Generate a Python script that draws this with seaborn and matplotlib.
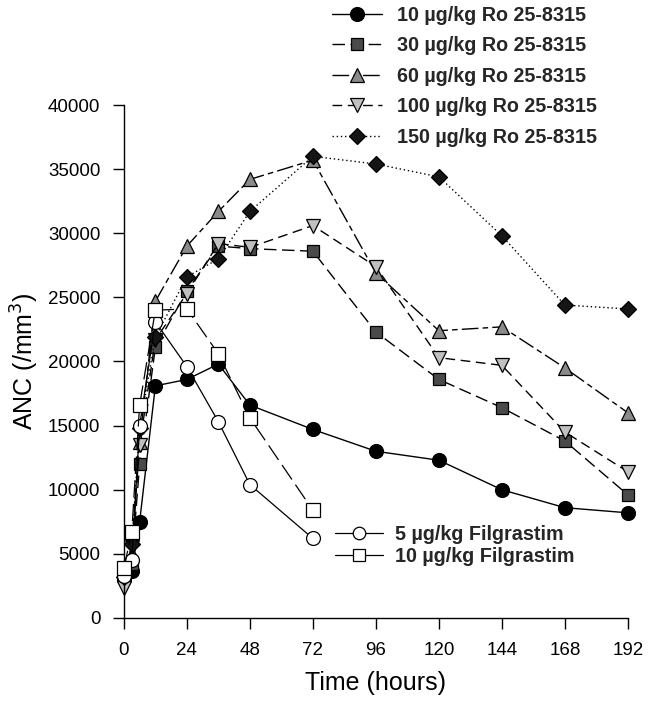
import matplotlib
matplotlib.use("Agg")
import matplotlib.pyplot as plt
import seaborn as sns
import pandas as pd
from matplotlib.lines import Line2D

# ---- data ----
times_ro = [0, 3, 6, 12, 24, 36, 48, 72, 96, 120, 144, 168, 192]
ro_10 = [3000, 3700, 7500, 18100, 18600, 19800, 16600, 14700, 13000, 12300, 10000, 8600, 8200]
ro_30 = [3300, 4200, 12000, 21100, 25500, 29000, 28800, 28600, 22300, 18600, 16400, 13800, 9600]
ro_60 = [3500, 5000, 13700, 24700, 29000, 31700, 34200, 35700, 26900, 22400, 22700, 19500, 16000]
ro_100 = [2300, 5500, 13500, 21700, 25300, 29200, 28900, 30600, 27400, 20300, 19700, 14500, 11400]
ro_150 = [3200, 5800, 14800, 21900, 26600, 28000, 31700, 36000, 35400, 34400, 29800, 24400, 24100]

times_fil = [0, 3, 6, 12, 24, 36, 48, 72]
fil_5 = [3300, 4500, 15000, 23100, 19600, 15300, 10400, 6200]
fil_10 = [3900, 6700, 16600, 24000, 24100, 20600, 15600, 8400]

labels_ro = ["10 µg/kg Ro 25-8315", "30 µg/kg Ro 25-8315", "60 µg/kg Ro 25-8315",
             "100 µg/kg Ro 25-8315", "150 µg/kg Ro 25-8315"]
labels_fil = ["5 µg/kg Filgrastim", "10 µg/kg Filgrastim"]
x_ticks = [0, 24, 48, 72, 96, 120, 144, 168, 192]
y_ticks = [0, 5000, 10000, 15000, 20000, 25000, 30000, 35000, 40000]

sns.set_theme(style="ticks")
plt.rcParams['font.family'] = ['Liberation Sans', 'DejaVu Sans']

fig = plt.figure(figsize=(6.52, 7.02), dpi=100)
ax = fig.add_axes([0.190, 0.1197, 0.773, 0.7307])

styles = [
    dict(marker='o', mfc='black', ms=10, dashes=None),
    dict(marker='s', mfc='#4a4a4a', ms=8.5, dashes=(9, 4)),
    dict(marker='^', mfc='#8a8a8a', ms=9.5, dashes=(12, 3, 4, 3)),
    dict(marker='v', mfc='#c0c0c0', ms=9.5, dashes=(7, 4)),
    dict(marker='D', mfc='#151515', ms=8.5, dashes=(1, 2)),
]
series_ro = [ro_10, ro_30, ro_60, ro_100, ro_150]

handles_ro = []
for vals, lab, st in zip(series_ro, labels_ro, styles):
    df = pd.DataFrame({"t": times_ro, "anc": vals})
    sns.lineplot(data=df, x="t", y="anc", ax=ax, color='black', lw=1.0,
                 marker=st['marker'], markersize=st['ms'], markerfacecolor=st['mfc'],
                 markeredgecolor='black', markeredgewidth=0.9,
                 dashes=False, clip_on=False, legend=False)
    line = ax.lines[-1]
    if st['dashes'] is not None:
        line.set_dashes(st['dashes'])
    h = Line2D([], [], color='black', lw=1.0, marker=st['marker'], markersize=st['ms'],
               markerfacecolor=st['mfc'], markeredgecolor='black', markeredgewidth=0.9)
    if st['dashes'] is not None:
        h.set_dashes(st['dashes'])
    handles_ro.append(h)

fil_styles = [
    dict(marker='o', ms=10, dashes=None),
    dict(marker='s', ms=9.5, dashes=(14, 5)),
]
handles_fil = []
for vals, lab, st in zip([fil_5, fil_10], labels_fil, fil_styles):
    df = pd.DataFrame({"t": times_fil, "anc": vals})
    sns.lineplot(data=df, x="t", y="anc", ax=ax, color='black', lw=0.9,
                 marker=st['marker'], markersize=st['ms'], markerfacecolor='white',
                 markeredgecolor='black', markeredgewidth=0.9,
                 dashes=False, clip_on=False, legend=False, zorder=3)
    line = ax.lines[-1]
    if st['dashes'] is not None:
        line.set_dashes(st['dashes'])
    h = Line2D([], [], color='black', lw=0.9, marker=st['marker'], markersize=st['ms'] * 0.9,
               markerfacecolor='white', markeredgecolor='black', markeredgewidth=0.9)
    handles_fil.append(h)

ax.set_xlim(0, 192)
ax.set_ylim(0, 40000)
ax.set_xticks(x_ticks)
ax.set_yticks(y_ticks)
ax.set_xticklabels([str(t) for t in x_ticks])
ax.set_yticklabels([str(t) for t in y_ticks])
ax.tick_params(axis='both', direction='out', length=8, width=1, labelsize=13.5, color='black',
               labelcolor='black', pad=9)
for side in ['top', 'right']:
    ax.spines[side].set_visible(False)
for side in ['left', 'bottom']:
    ax.spines[side].set_color('black')
    ax.spines[side].set_linewidth(1.0)

ax.set_xlabel("Time (hours)", fontsize=18, labelpad=9, color='black')
ax.set_ylabel("ANC (/mm$^3$)", fontsize=18, labelpad=5, color='black')

leg_font = dict(weight='bold', size=14.2)
leg1 = fig.legend(handles_ro, labels_ro, loc='upper left', bbox_to_anchor=(0.4965, 1.003),
                  frameon=False, prop=leg_font, handlelength=2.55,
                  handletextpad=0.75, labelspacing=0.58, borderaxespad=0)
leg2 = ax.legend(handles_fil, labels_fil, loc='upper left', bbox_to_anchor=(0.403, 0.196),
                 frameon=False, prop=leg_font, handlelength=2.45,
                 handletextpad=0.6, labelspacing=0.15, borderaxespad=0)

fig.savefig("out.png", dpi=100)
